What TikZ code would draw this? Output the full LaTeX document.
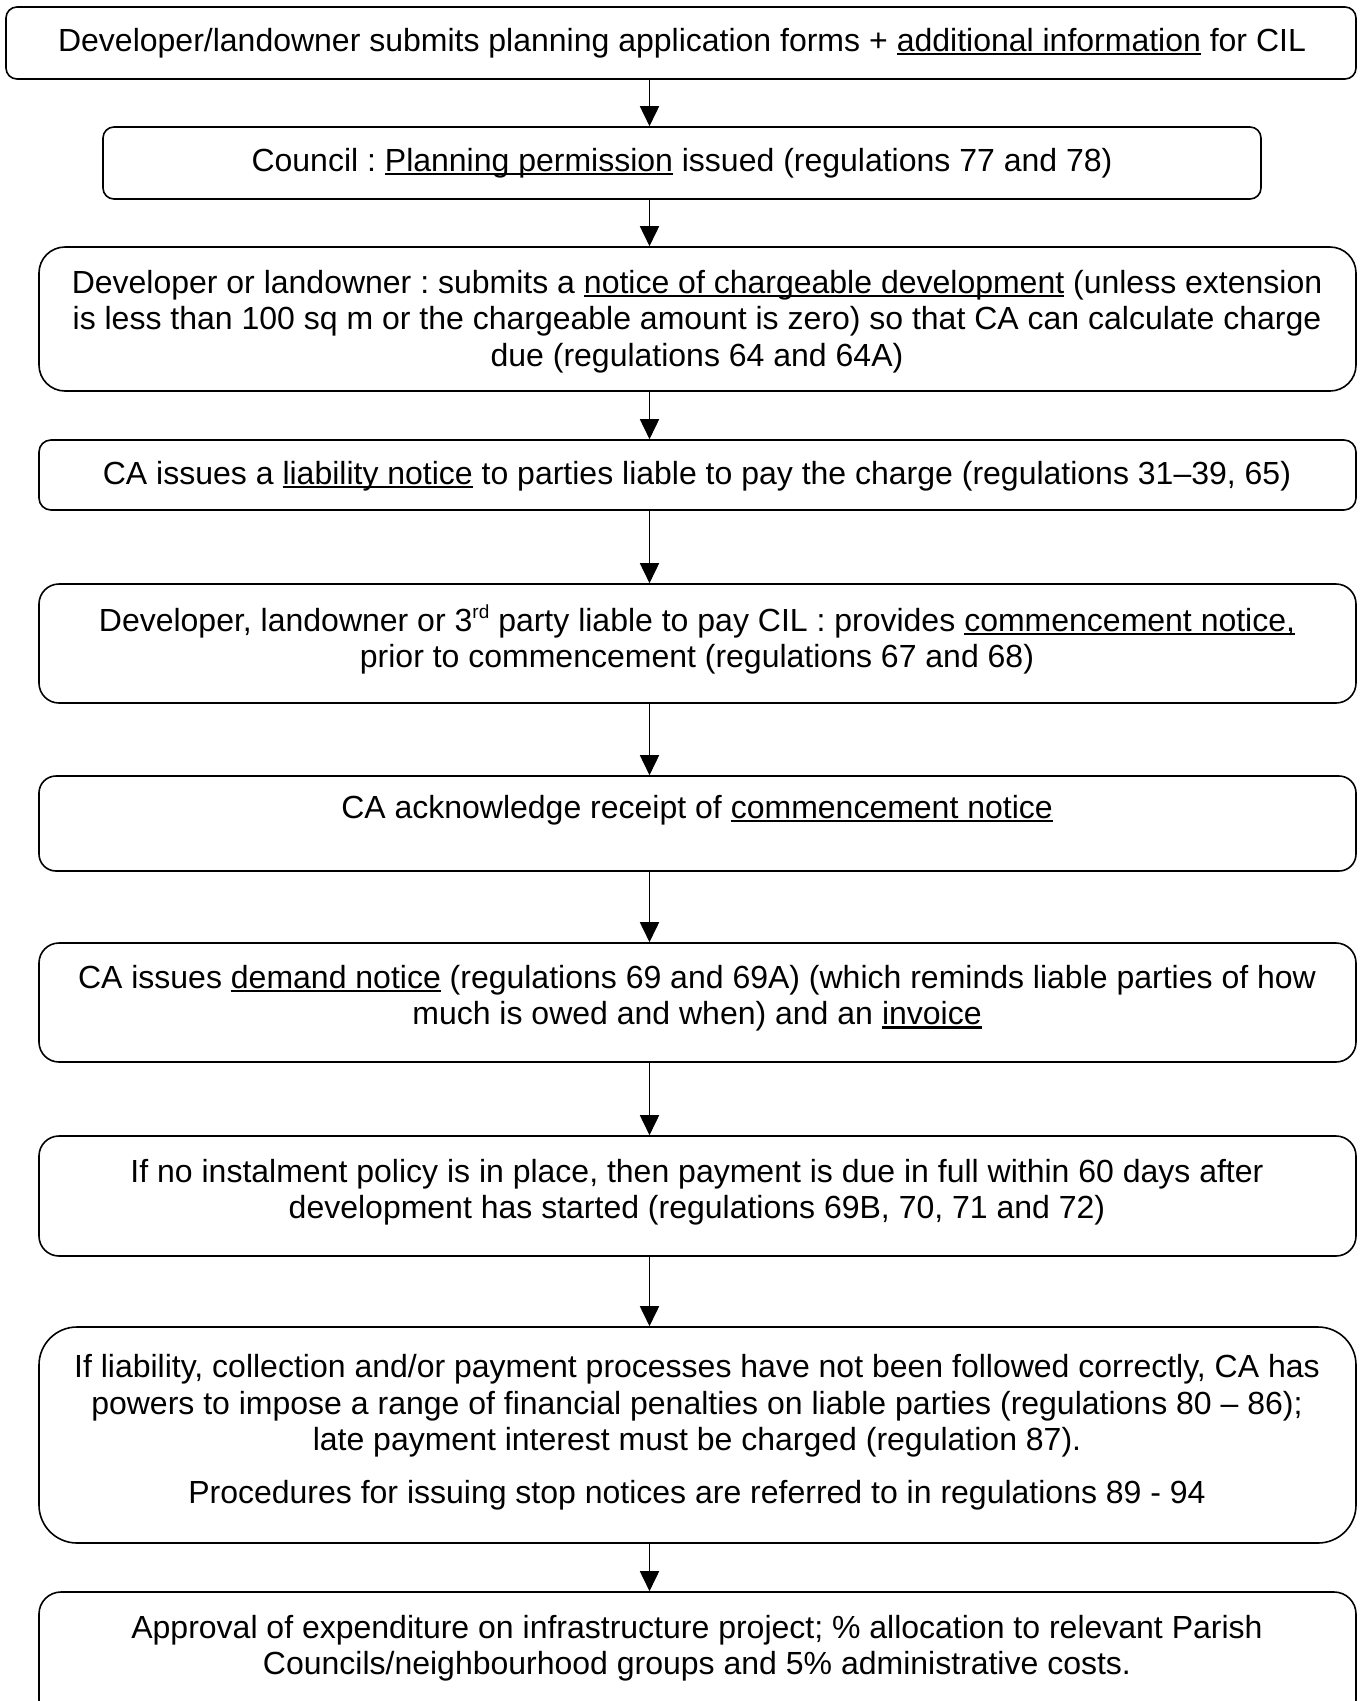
\documentclass[tikz,border=0pt]{standalone}
\usepackage{fontspec}
\setmainfont{Liberation Sans}
\usetikzlibrary{arrows.meta}
\newcommand\ulx[1]{\setbox0\hbox{#1}\rlap{\rule[-0.11em]{\wd0}{0.065em}}\box0\relax}
\newcommand\supx[1]{\raisebox{0.4em}{\fontsize{19}{19}\selectfont #1}}
\frenchspacing
\begin{document}
\begin{tikzpicture}[x=1pt,y=-1pt,
  box/.style={draw, line width=1.6pt, rounded corners=#1, inner sep=0pt},
  txt/.style={font=\fontsize{32}{36.4}\selectfont, align=center, inner sep=0pt},
  arr/.style={line width=1.7pt, -{Triangle[length=20pt,width=19pt]}}]
\fill[white] (0,0) rectangle (1364,1701);
\useasboundingbox (0,0) rectangle (1364,1701);
\coordinate (ax) at (649.5,0);
% boxes
\node[box=11, minimum width=1350pt, minimum height=72pt] (b1) at (681,43) {};
\node[box=11, minimum width=1158pt, minimum height=72pt] (b2) at (682,163) {};
\node[box=26, minimum width=1317pt, minimum height=144pt] (b3) at (697.5,319) {};
\node[box=12, minimum width=1317pt, minimum height=70pt] (b4) at (697.5,475) {};
\node[box=20, minimum width=1317pt, minimum height=119pt] (b5) at (697.5,643.5) {};
\node[box=17, minimum width=1317pt, minimum height=95pt] (b6) at (697.5,823.5) {};
\node[box=20, minimum width=1317pt, minimum height=119pt] (b7) at (697.5,1002.5) {};
\node[box=20, minimum width=1317pt, minimum height=120pt] (b8) at (697.5,1196) {};
\node[box=38, minimum width=1317pt, minimum height=216pt] (b9) at (697.5,1435) {};
\node[box=22, minimum width=1317pt, minimum height=130pt] (b10) at (697.5,1657) {};
% texts
\node[txt] (t1) at (682,43.5) {Developer/landowner submits planning application forms + \ulx{additional information} for CIL};
\node[txt] (t2) at (682,163.5) {Council : \ulx{Planning permission} issued (regulations 77 and 78)};
\node[txt] (t3) at (697,321.5) {Developer or landowner : submits a \ulx{notice of chargeable development} (unless extension\\ is less than 100 sq m or the chargeable amount is zero) so that CA can calculate charge\\ due (regulations 64 and 64A)};
\node[txt] (t4) at (697,476.5) {CA issues a \ulx{liability notice} to parties liable to pay the charge (regulations 31–39, 65)};
\node[txt] (t5) at (697,639.5) {Developer, landowner or 3\supx{rd} party liable to pay CIL : provides \ulx{commencement notice,}\\ prior to commencement (regulations 67 and 68)};
\node[txt] (t6) at (697,810.5) {CA acknowledge receipt of \ulx{commencement notice}};
\node[txt] (t7) at (697,998.5) {CA issues \ulx{demand notice} (regulations 69 and 69A) (which reminds liable parties of how\\ much is owed and when) and an \ulx{invoice}};
\node[txt] (t8) at (697,1192.5) {If no instalment policy is in place, then payment is due in full within 60 days after\\ development has started (regulations 69B, 70, 71 and 72)};
\node[txt] (t9) at (697,1432.5) {If liability, collection and/or payment processes have not been followed correctly, CA has\\ powers to impose a range of financial penalties on liable parties (regulations 80 – 86);\\ late payment interest must be charged (regulation 87).\\[17pt] Procedures for issuing stop notices are referred to in regulations 89 - 94};
\node[txt] (t10) at (697,1648.5) {Approval of expenditure on infrastructure project; \% allocation to relevant Parish\\ Councils/neighbourhood groups and 5\% administrative costs.};
% arrows
\foreach \a/\b in {b1/b2,b2/b3,b3/b4,b4/b5,b5/b6,b6/b7,b7/b8,b8/b9,b9/b10}
  \draw[arr] (\a.south -| ax) -- (\b.north -| ax);
\end{tikzpicture}
\end{document}
